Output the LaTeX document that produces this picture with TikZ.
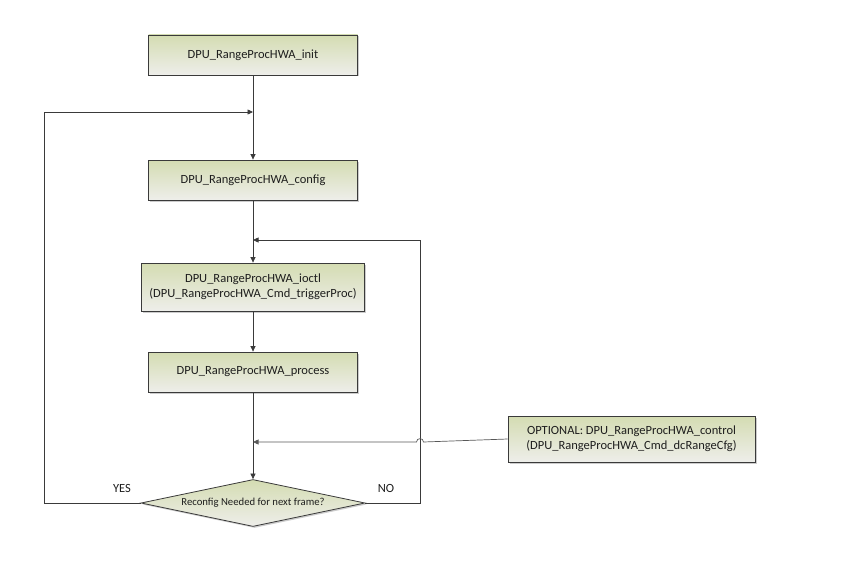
\documentclass[tikz,border=0pt]{standalone}
\usepackage{fontspec}
\setmainfont{Carlito}
\usetikzlibrary{shapes.geometric,arrows.meta,shadows}
\definecolor{linec}{HTML}{3A3A3A}
\definecolor{boxtop}{HTML}{D4DCB2}
\definecolor{boxbot}{HTML}{EEEEEA}
\definecolor{txt}{HTML}{1E1E1E}
\begin{document}
\begin{tikzpicture}[x=1pt,y=-1pt,
  lbl/.style={font=\fontsize{12.5}{15}\selectfont, text=txt},
  shade/.style={top color=boxtop, bottom color=boxbot,
    drop shadow={shadow xshift=1.5pt, shadow yshift=-1.5pt, fill=black!20, opacity=1}},
  stepbox/.style={draw=linec, line width=0.8pt, shade, lbl, align=center,
    inner sep=0pt, minimum width=209pt, minimum height=40pt},
  decision/.style={diamond, draw=linec, line width=0.8pt, shade, lbl,
    font=\fontsize{10.7}{13}\selectfont,
    inner sep=0pt, aspect=4.77, minimum width=224pt, minimum height=47pt},
  flow/.style={draw=linec, line width=0.7pt},
  arr/.style={flow, -{Triangle[length=5.5pt,width=5pt]}}]
\useasboundingbox (0,0) rectangle (845,575);

% process steps
\node[stepbox] (init) at (253,55) {DPU\_RangeProcHWA\_init};
\node[stepbox] (cfg) at (253,180) {DPU\_RangeProcHWA\_config};
\node[stepbox, minimum width=223pt, minimum height=48pt] (ioctl) at (253,287)
  {DPU\_RangeProcHWA\_ioctl\\(DPU\_RangeProcHWA\_Cmd\_triggerProc)};
\node[stepbox] (proc) at (253,372) {DPU\_RangeProcHWA\_process};
\node[stepbox, minimum width=247pt, minimum height=46pt] (ctrl) at (631.5,439)
  {OPTIONAL: DPU\_RangeProcHWA\_control\\(DPU\_RangeProcHWA\_Cmd\_dcRangeCfg)};
\node[decision] (dec) at (253,503) {Reconfig Needed for next frame?};

% join points on the main line
\coordinate (j1) at (253,112);
\coordinate (j2) at (253,240);
\coordinate (j3) at (253,442);
\coordinate (yl) at (44,503);
\coordinate (nr) at (420,503);

% main flow
\draw[arr] (init) -- (cfg);
\draw[arr] (cfg) -- (ioctl);
\draw[arr] (ioctl) -- (proc);
\draw[arr] (proc) -- (dec);

% reconfigure loop
\draw[arr] (dec.west) -- (yl) -- (44,112) -- (j1);
% next frame loop
\draw[arr] (dec.east) -- (nr) -- (420,240) -- (j2);
% optional control, hopping over the loop line
\draw[arr, draw=linec!85] (ctrl.west) -- (423.5,442)
  .. controls (423.5,437.5) and (416.5,437.5) .. (416.5,442) -- (j3);

\node[lbl] (yes) at (122,488) {YES};
\node[lbl] (no) at (386,488) {NO};
\end{tikzpicture}
\end{document}
